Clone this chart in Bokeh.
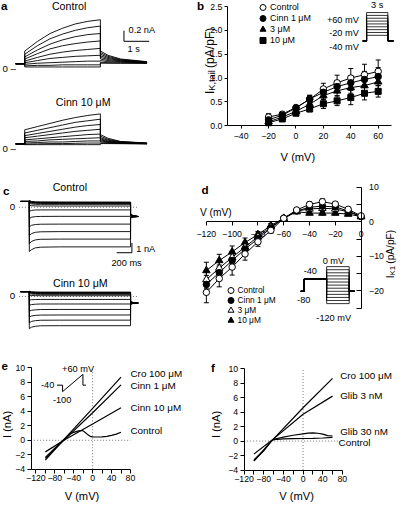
import math
from bokeh.plotting import figure
from bokeh.models import (Range1d, LinearAxis, FixedTicker, ColumnDataSource, Whisker,
                          TeeHead, Legend, LegendItem, NumeralTickFormatter)
from bokeh.layouts import row, column
from bokeh.embed import file_html
from bokeh.resources import INLINE
from bokeh.core.properties import value

FONT = "Liberation Sans"
K = 0.97

# ======================= DATA =======================
# (a) IK traces (nA); time in s; steps -20..+60 mV, tails at -40 mV
a_pre_t = [-0.36, 0.0]
a_step_t = [0.0, 0.5, 1.0, 1.5, 2.0, 2.5, 3.0]
a_tail_t = [3.0, 3.3, 3.8, 4.85]
a_ctrl_hold = 0.08
a_ctrl_step = [
    [0.32, 0.50, 0.65, 0.75, 0.83, 0.88, 0.91],
    [0.26, 0.42, 0.55, 0.64, 0.71, 0.76, 0.79],
    [0.21, 0.34, 0.45, 0.53, 0.59, 0.63, 0.65],
    [0.17, 0.27, 0.36, 0.42, 0.46, 0.49, 0.51],
    [0.13, 0.20, 0.26, 0.30, 0.33, 0.35, 0.37],
    [0.10, 0.14, 0.18, 0.20, 0.22, 0.23, 0.24],
    [0.07, 0.09, 0.10, 0.11, 0.12, 0.13, 0.13],
    [0.04, 0.05, 0.05, 0.06, 0.06, 0.06, 0.06],
    [0.02, 0.02, 0.02, 0.02, 0.02, 0.02, 0.02]]
a_ctrl_tail = [
    [0.32, 0.24, 0.17, 0.12],
    [0.29, 0.22, 0.16, 0.115],
    [0.26, 0.20, 0.15, 0.11],
    [0.23, 0.18, 0.14, 0.105],
    [0.20, 0.16, 0.13, 0.10],
    [0.17, 0.14, 0.12, 0.10],
    [0.14, 0.12, 0.11, 0.095],
    [0.11, 0.10, 0.095, 0.09],
    [0.09, 0.09, 0.09, 0.09]]
a_cinn_hold = 0.084
a_cinn_step = [
    [0.35, 0.41, 0.47, 0.53, 0.58, 0.62, 0.65],
    [0.29, 0.34, 0.39, 0.44, 0.49, 0.52, 0.55],
    [0.24, 0.28, 0.32, 0.36, 0.40, 0.43, 0.45],
    [0.20, 0.23, 0.26, 0.29, 0.32, 0.34, 0.36],
    [0.16, 0.18, 0.20, 0.22, 0.24, 0.26, 0.27],
    [0.13, 0.14, 0.16, 0.17, 0.18, 0.19, 0.20],
    [0.10, 0.11, 0.12, 0.12, 0.13, 0.14, 0.14],
    [0.08, 0.085, 0.09, 0.09, 0.095, 0.10, 0.10],
    [0.07, 0.07, 0.07, 0.07, 0.07, 0.07, 0.07]]
a_cinn_tail = [
    [0.26, 0.19, 0.13, 0.10],
    [0.23, 0.17, 0.125, 0.098],
    [0.20, 0.155, 0.12, 0.096],
    [0.18, 0.14, 0.115, 0.094],
    [0.16, 0.13, 0.11, 0.092],
    [0.14, 0.12, 0.10, 0.09],
    [0.12, 0.11, 0.097, 0.088],
    [0.10, 0.097, 0.092, 0.086],
    [0.09, 0.09, 0.088, 0.085]]
a_sb_t, a_sb_i = 1.0, 0.2          # scale bar: 1 s, 0.2 nA

# (b) IK,tail density (pA/pF) vs V (mV)
b_v = [-20, -10, 0, 10, 20, 30, 40, 50, 60]
b_ctrl = [0.18, 0.24, 0.38, 0.55, 0.77, 0.90, 1.00, 1.07, 1.14]
b_ctrl_err = [0.07, 0.04, 0.04, 0.08, 0.12, 0.16, 0.20, 0.22, 0.24]
b_c1 = [0.12, 0.22, 0.37, 0.56, 0.70, 0.82, 0.90, 0.97, 1.03]
b_c1_err = [0.05, 0.04, 0.05, 0.08, 0.10, 0.13, 0.15, 0.17, 0.19]
b_c3 = [0.08, 0.18, 0.30, 0.45, 0.63, 0.73, 0.80, 0.84, 0.92]
b_c3_err = [0.04, 0.03, 0.04, 0.06, 0.08, 0.10, 0.12, 0.13, 0.15]
b_c10 = [0.06, 0.14, 0.26, 0.35, 0.46, 0.52, 0.59, 0.68, 0.72]
b_c10_err = [0.05, 0.04, 0.04, 0.06, 0.10, 0.10, 0.15, 0.14, 0.12]
b_labels = ["Control", "Cinn 1 μM", "3 μM", "10 μM"]
b_x_ticks = [-40, -20, 0, 20, 40, 60]
b_y_ticks = [0.0, 0.5, 1.0, 1.5, 2.0, 2.5]
b_prot_t = [-0.55, 0.0, 3.0, 3.8]          # s
b_prot_hold = -40
b_prot_steps = [60, 50, 40, 30, 20, 10, 0, -10, -20]

# (c) IK1 traces (nA); time in ms; steps 0..-120 mV
c_pre_t = [-115, 0]
c_step_t = [0, 30, 80, 150, 400, 1330]
c_tail_t = [1330, 1365, 1430]
c_ctrl_hold = 0.6
c_ctrl_step = [
    [0.70, 0.60, 0.56, 0.55, 0.54, 0.53],
    [0.65, 0.56, 0.52, 0.51, 0.50, 0.50],
    [0.60, 0.52, 0.49, 0.48, 0.47, 0.47],
    [0.55, 0.48, 0.45, 0.44, 0.43, 0.43],
    [0.50, 0.44, 0.41, 0.40, 0.40, 0.40],
    [0.40, 0.34, 0.31, 0.30, 0.30, 0.30],
    [0.20, 0.16, 0.14, 0.13, 0.13, 0.13],
    [-0.40, -0.32, -0.28, -0.27, -0.27, -0.27],
    [-1.15, -1.02, -0.96, -0.94, -0.93, -0.93],
    [-2.00, -1.85, -1.77, -1.74, -1.73, -1.73],
    [-2.90, -2.70, -2.57, -2.52, -2.50, -2.50],
    [-3.75, -3.50, -3.35, -3.29, -3.27, -3.27],
    [-4.55, -4.35, -4.17, -4.10, -4.07, -4.07]]
c_ctrl_tail = [
    [-0.70, -0.86, -0.95], [-0.72, -0.87, -0.95], [-0.74, -0.87, -0.95],
    [-0.76, -0.88, -0.95], [-0.78, -0.88, -0.95], [-0.80, -0.89, -0.95],
    [-0.83, -0.90, -0.95], [-0.88, -0.92, -0.95], [-0.93, -0.94, -0.95],
    [-0.98, -0.96, -0.95], [-1.02, -0.98, -0.95], [-1.06, -1.00, -0.95],
    [-1.10, -1.02, -0.95]]
c_cinn_hold = 0.5
c_cinn_step = [
    [0.55, 0.48, 0.46, 0.45, 0.45, 0.45],
    [0.52, 0.45, 0.43, 0.42, 0.42, 0.42],
    [0.48, 0.42, 0.39, 0.38, 0.38, 0.38],
    [0.44, 0.38, 0.36, 0.35, 0.35, 0.35],
    [0.38, 0.33, 0.31, 0.30, 0.30, 0.30],
    [0.30, 0.25, 0.23, 0.22, 0.22, 0.22],
    [0.14, 0.10, 0.09, 0.08, 0.08, 0.08],
    [-0.38, -0.33, -0.31, -0.30, -0.30, -0.30],
    [-0.90, -0.83, -0.79, -0.77, -0.77, -0.77],
    [-1.50, -1.42, -1.37, -1.34, -1.33, -1.33],
    [-2.10, -2.00, -1.94, -1.91, -1.90, -1.90],
    [-2.70, -2.56, -2.48, -2.44, -2.43, -2.43],
    [-3.30, -3.15, -3.06, -3.01, -3.00, -3.00]]
c_cinn_tail = [
    [-0.52, -0.62, -0.67], [-0.54, -0.62, -0.67], [-0.56, -0.63, -0.67],
    [-0.58, -0.63, -0.67], [-0.60, -0.64, -0.67], [-0.62, -0.64, -0.67],
    [-0.64, -0.65, -0.67], [-0.67, -0.66, -0.67], [-0.70, -0.67, -0.67],
    [-0.73, -0.68, -0.67], [-0.76, -0.69, -0.67], [-0.79, -0.70, -0.67],
    [-0.82, -0.71, -0.67]]
c_zero_t = [-136, 1430]
c_sb_t, c_sb_i = 200.0, 1.0          # scale bar: 200 ms, 1 nA

# (d) IK1 density (pA/pF) vs V (mV)
d_v = [-120, -110, -100, -90, -80, -70, -60, -50, -40, -30, -20, -10, 0]
d_ctrl = [-20.4, -16.4, -13.1, -9.3, -5.8, -2.5, 1.0, 3.4, 5.0, 5.8, 5.1, 3.6, 1.7]
d_ctrl_err = [3.0, 2.4, 2.3, 1.8, 1.3, 0.8, 0.5, 0.5, 0.7, 0.8, 0.7, 0.5, 0.4]
d_c1 = [-18.1, -14.7, -11.2, -7.9, -4.9, -1.8, 1.0, 3.1, 4.2, 4.5, 4.3, 3.1, 1.5]
d_c1_err = [2.6, 2.2, 1.9, 1.5, 1.1, 0.7, 0.4, 0.5, 0.6, 0.6, 0.6, 0.5, 0.4]
d_c3 = [-16.7, -13.4, -10.3, -7.3, -4.3, -1.5, 1.0, 3.1, 3.7, 3.9, 3.7, 2.9, 1.5]
d_c3_err = [2.5, 2.0, 1.8, 1.4, 1.0, 0.6, 0.4, 0.5, 0.5, 0.6, 0.5, 0.4, 0.4]
d_c10 = [-14.1, -11.2, -8.7, -6.0, -3.7, -1.1, 1.0, 2.9, 2.5, 2.5, 2.5, 2.2, 1.5]
d_c10_err = [2.4, 1.8, 1.7, 1.3, 0.9, 0.6, 0.4, 0.4, 0.4, 0.5, 0.5, 0.4, 0.4]
d_labels = ["Control", "Cinn 1 μM", "3 μM", "10 μM"]
d_x_ticks = [-120, -100, -80, -60, -40, -20, 0]
d_y_ticks = [-20, -10, 0, 10]
d_y_minor = [-25, -15, -5, 5]
d_prot_t = [-1150, -1000, 0, 1000, 1250]     # ms
d_prot_hold = -80
d_prot_pre = -40
d_prot_steps = [0, -10, -20, -30, -40, -50, -60, -70, -80, -90, -100, -110, -120]

# (e) ramp I-V (nA vs mV)
e_v = [-100, -60, 0, 60]
e_cro = [-2.75, 0.15, 4.4, 8.7]
e_cinn1 = [-2.5, 0.05, 3.8, 7.65]
e_cinn10 = [-1.6, 0.05, 2.25, 4.5]
e_ctrl_v = [-100, -80, -60, -50, -40, -30, -25, -20, -15, -10, -5, 0, 10, 20, 30, 40, 50, 60]
e_ctrl = [-2.35, -1.1, 0.15, 0.75, 1.1, 1.3, 1.35, 1.3, 1.05, 0.75, 0.55, 0.48, 0.45, 0.47,
          0.55, 0.68, 0.85, 1.1]
e_labels = ["Cro 100 μM", "Cinn 1 μM", "Cinn 10 μM", "Control"]
e_prot_t = [-55, 0, 0, 200, 200, 230]        # ms
e_prot_v = [-40, -40, -100, 60, -40, -40]    # mV
e_zero_v = [-130, 80]
e_zero_i = [-4, 10]

# (f) ramp I-V (nA vs mV)
f_v = [-100, -60, 0, 60]
f_cro = [-2.75, 0.3, 4.6, 8.65]
f_glib3 = [-1.8, 0.3, 3.7, 6.2]
f_g30_v = [-100, -80, -65, -60, -40, -20, 0, 10, 20, 30, 40, 50, 60]
f_g30 = [-2.6, -1.25, 0.0, 0.25, 0.55, 0.8, 1.0, 1.1, 1.12, 1.08, 0.95, 0.75, 0.7]
f_ctrl_v = [-100, -80, -65, -60, -40, -20, 0, 20, 40, 60]
f_ctrl = [-2.7, -1.35, 0.0, 0.2, 0.3, 0.33, 0.35, 0.37, 0.42, 0.5]
f_labels = ["Cro 100 μM", "Glib 3 nM", "Glib 30 nM", "Control"]
f_zero_v = [-120, 72]
f_zero_i = [-4, 10]

ef_y_ticks = [-4, -2, 0, 2, 4, 6, 8, 10]
ef_x_ticks = [-120, -80, -40, 0, 40, 80]
ef_x_minor = [-100, -60, -20, 20, 60]

# ======================= LAYOUT HELPERS =======================
COLS = [(1.0, 200.0), (200.0, 412.0)]
ROWS = [(1.0, 170.0), (170.0, 355.0), (355.0, 519.0)]
WID = [193, 205]
HEI = [163, 180, 160]


class Map:
    """maps reference-layout pixels to data values of one panel"""
    def __init__(self, px, vx, sx, py, vy, sy):
        self.px, self.vx, self.sx, self.py, self.vy, self.sy = px, vx, sx, py, vy, sy

    def x(self, p):
        return self.vx + (p - self.px) / self.sx

    def y(self, p):
        return self.vy - (p - self.py) / self.sy


def xr(m, ci):
    x0, x1 = COLS[ci]
    return Range1d(m.x(x0), m.x(x1))


def yr(m, ri):
    y0, y1 = ROWS[ri]
    return Range1d(m.y(y1), m.y(y0))


def make_fig(ci, ri, m):
    p = figure(width=WID[ci], height=HEI[ri], x_range=xr(m, ci), y_range=yr(m, ri),
               x_axis_type=None, y_axis_type=None, toolbar_location=None, tools="",
               output_backend="svg", min_border=0, outline_line_color=None)
    p.background_fill_color = "white"
    p.border_fill_color = "white"
    return p


def T(p, m, xp, yp, s, size, align="left", base="middle", bold=False, angle=0.0):
    p.text(x=[m.x(xp)], y=[m.y(yp)], text=[s], text_font=value(FONT),
           text_font_size=value(f"{size * K:.2f}px"), text_align=align,
           text_baseline=base, angle=angle, text_color="black",
           text_font_style="bold" if bold else "normal")


def add_axis(p, side, loc, bounds, ticks, minor=(), t_in=0, t_out=3, standoff=2,
             size=9.0, fmt=None):
    ax = LinearAxis(fixed_location=loc, bounds=bounds,
                    ticker=FixedTicker(ticks=list(ticks), minor_ticks=list(minor)))
    ax.axis_line_color = "black"
    ax.axis_line_width = 1
    ax.major_tick_line_color = "black"
    ax.minor_tick_line_color = "black"
    ax.major_tick_in = t_in
    ax.major_tick_out = t_out
    ax.minor_tick_in = t_in
    ax.minor_tick_out = t_out
    ax.major_label_standoff = standoff
    ax.major_label_text_font = FONT
    ax.major_label_text_font_size = f"{size * K:.2f}px"
    ax.major_label_text_color = "black"
    if fmt is not None:
        ax.formatter = fmt
    p.add_layout(ax, side)
    return ax


def traces(pre_t, step_t, tail_t, hold, steps, tails):
    xs, ys = [], []
    for st, tl in zip(steps, tails):
        xs.append(list(pre_t) + list(step_t) + list(tail_t))
        ys.append([hold] * len(pre_t) + list(st) + list(tl))
    return xs, ys


def series(p, x, y, err, marker, fill, size):
    p.line(x, y, line_color="black", line_width=1)
    src = ColumnDataSource(dict(x=x, up=[a + b for a, b in zip(y, err)],
                                lo=[a - b for a, b in zip(y, err)]))
    p.add_layout(Whisker(source=src, base="x", upper="up", lower="lo",
                         line_color="black", line_width=1,
                         upper_head=TeeHead(size=5, line_color="black", line_width=1),
                         lower_head=TeeHead(size=5, line_color="black", line_width=1)))
    return p.scatter(x, y, marker=marker, size=size, fill_color=fill,
                     line_color="black", line_width=1)


def add_legend(p, ci, ri, labels, rends, cx_ref, rows_ref, font, gw=15, gh=16):
    """one single-item Legend per row, so rows can sit closer than the glyph box"""
    W, H = WID[ci], HEI[ri]
    (x0, x1), (y0, y1) = COLS[ci], ROWS[ri]
    kx, ky = W / (x1 - x0), H / (y1 - y0)
    for lab, r, yc in zip(labels, rends, rows_ref):
        vx = (cx_ref - x0) * kx - gw / 2.0
        vy = H - ((yc - y0) * ky + gh / 2.0)
        lg = Legend(items=[LegendItem(label=lab, renderers=[r])],
                    location=(vx, vy), glyph_width=gw, glyph_height=gh, label_height=gh,
                    label_standoff=0, spacing=0, padding=0, margin=0,
                    border_line_color=None, background_fill_alpha=0.0,
                    label_text_font=FONT, label_text_font_size=f"{font * K:.2f}px",
                    label_text_color="black")
        p.add_layout(lg)


DOT = dict(line_color="#777777", line_width=1, line_dash="1 2")
TR = dict(line_color="black", line_width=0.9)

# ======================= PANEL a =======================
ma = Map(26.0, 0.0, 26.0, 71.0, 0.0, 55.0)
ma_c = Map(26.0, 0.0, 26.0, 154.3, 0.0, 55.0)
pa = make_fig(0, 0, ma)
pa.extra_y_ranges = {"cinn": yr(ma_c, 0)}
xs, ys = traces(a_pre_t, a_step_t, a_tail_t, a_ctrl_hold, a_ctrl_step, a_ctrl_tail)
pa.multi_line(xs=xs, ys=ys, **TR)
xs, ys = traces(a_pre_t, a_step_t, a_tail_t, a_cinn_hold, a_cinn_step, a_cinn_tail)
pa.multi_line(xs=xs, ys=ys, y_range_name="cinn", **TR)
sx0, sy0 = ma.x(128.3), ma.y(43.3)
pa.multi_line(xs=[[sx0, sx0], [sx0, sx0 + a_sb_t]], ys=[[sy0 + a_sb_i, sy0], [sy0, sy0]],
              line_color="black", line_width=1)
T(pa, ma, 1.5, 6.5, "a", 12, bold=True)
T(pa, ma, 71.7, 6.5, "Control", 11, align="center")
T(pa, ma, 3, 71, "0 –", 10)
T(pa, ma, 133, 31.7, "0.2 nA", 9.5)
T(pa, ma, 138.3, 51.7, "1 s", 9.5, align="center")
T(pa, ma, 86.3, 106.7, "Cinn 10 μM", 11, align="center")
T(pa, ma, 3, 154.3, "0 –", 10)

# ======================= PANEL b =======================
mb = Map(249.3, -40.0, 1.417, 130.7, 0.0, 49.3)
mb_p = Map(379.0, 0.0, 7.333, 43.0, -40.0, 0.295)
pb = make_fig(1, 0, mb)
pb.extra_x_ranges = {"bt": xr(mb_p, 1)}
pb.extra_y_ranges = {"bv": yr(mb_p, 0)}
add_axis(pb, "left", -50, (0, 2.5), b_y_ticks, t_out=3, standoff=2,
         fmt=NumeralTickFormatter(format="0.0"))
add_axis(pb, "below", 0, (-50, 70), b_x_ticks, t_out=3, standoff=4)
rb = [series(pb, b_v, b_ctrl, b_ctrl_err, "circle", "white", 6.5),
      series(pb, b_v, b_c1, b_c1_err, "circle", "black", 6.5),
      series(pb, b_v, b_c3, b_c3_err, "triangle", "black", 7.5),
      series(pb, b_v, b_c10, b_c10_err, "square", "black", 6)]
add_legend(pb, 1, 0, b_labels, rb, 272.0, [8.3, 19.6, 30.9, 42.2], 9.2)
t0, t1, t2, t3 = b_prot_t
pb.multi_line(xs=[[t0, t1, t1, t2, t2, t3] for _ in b_prot_steps],
              ys=[[b_prot_hold, b_prot_hold, v, v, b_prot_hold, b_prot_hold] for v in b_prot_steps],
              x_range_name="bt", y_range_name="bv", line_color="black", line_width=0.8)
T(pb, mb, 203.5, 6.5, "b", 12, bold=True)
T(pb, mb, 390, 5.7, "3 s", 9.5, align="center")
T(pb, mb, 371, 21, "+60 mV", 9.5, align="right")
T(pb, mb, 371, 35, "-20 mV", 9.5, align="right")
T(pb, mb, 371, 49.3, "-40 mV", 9.5, align="right")
T(pb, mb, 308, 163, "V (mV)", 11.5, align="center")
T(pb, mb, 216.7, 98, "I", 12.5, angle=math.pi / 2)
T(pb, mb, 219.4, 94.5, "K,tail", 9.5, angle=math.pi / 2)
T(pb, mb, 216.7, 71.0, "(pA/pF)", 12.5, angle=math.pi / 2)

# ======================= PANEL c =======================
mc = Map(30.7, 0.0, 0.0785, 215.0, 0.0, 10.0)
mc_c = Map(30.7, 0.0, 0.0785, 306.7, 0.0, 10.0)
pc = make_fig(0, 1, mc)
pc.extra_y_ranges = {"cinn": yr(mc_c, 1)}
pc.line(c_zero_t, [0, 0], **DOT)
pc.line(c_zero_t, [0, 0], y_range_name="cinn", **DOT)
xs, ys = traces(c_pre_t, c_step_t, c_tail_t, c_ctrl_hold, c_ctrl_step, c_ctrl_tail)
pc.multi_line(xs=xs, ys=ys, **TR)
xs, ys = traces(c_pre_t, c_step_t, c_tail_t, c_cinn_hold, c_cinn_step, c_cinn_tail)
pc.multi_line(xs=xs, ys=ys, y_range_name="cinn", **TR)
sx0, sy0 = mc.x(136.5), mc.y(261.7)
pc.multi_line(xs=[[sx0, sx0], [sx0 - c_sb_t, sx0]], ys=[[sy0 + c_sb_i, sy0], [sy0, sy0]],
              line_color="black", line_width=1)
T(pc, mc, 3.5, 198, "c", 12, bold=True)
T(pc, mc, 72.5, 194.3, "Control", 11, align="center")
T(pc, mc, 13.3, 214.5, "0", 10, align="center")
T(pc, mc, 141, 257.5, "1 nA", 9.5)
T(pc, mc, 131, 272, "200 ms", 9.5, align="center")
T(pc, mc, 83.3, 292.7, "Cinn 10 μM", 11, align="center")
T(pc, mc, 13.3, 306.2, "0", 10, align="center")

# ======================= PANEL d =======================
md = Map(213.3, -120.0, 1.3333, 194.3, 10.0, 3.557)
md_p = Map(337.7, 0.0, 0.0233, 276.0, 0.0, 0.3167)
pd = make_fig(1, 1, md)
pd.extra_x_ranges = {"dt": xr(md_p, 1)}
pd.extra_y_ranges = {"dv": yr(md_p, 1)}
add_axis(pd, "right", 0, (-25, 10), d_y_ticks, minor=d_y_minor, t_in=5, t_out=0, standoff=8)
add_axis(pd, "below", 0, (-120, 0), d_x_ticks, t_out=4, standoff=5)
rd = [series(pd, d_v, d_c10, d_c10_err, "triangle", "black", 7.5),
      series(pd, d_v, d_c3, d_c3_err, "triangle", "white", 7.5),
      series(pd, d_v, d_c1, d_c1_err, "circle", "black", 6.5),
      series(pd, d_v, d_ctrl, d_ctrl_err, "circle", "white", 6.5)]
add_legend(pd, 1, 1, d_labels, rd[::-1], 238.3, [300.5, 310.8, 321.1, 331.4], 8.6)
q0, q1, q2, q3, q4 = d_prot_t
pd.multi_line(xs=[[q0, q1, q1, q2, q2, q3, q3, q4] for _ in d_prot_steps],
              ys=[[d_prot_hold, d_prot_hold, d_prot_pre, d_prot_pre, v, v, d_prot_hold, d_prot_hold]
                  for v in d_prot_steps],
              x_range_name="dt", y_range_name="dv", line_color="black", line_width=0.8)
T(pd, md, 208.3, 197, "d", 12, bold=True)
T(pd, md, 223, 220, "V (mV)", 10.5, align="center")
T(pd, md, 344.7, 270, "0 mV", 9.5, align="center")
T(pd, md, 320.8, 280.7, "-40", 9.5, align="center")
T(pd, md, 314, 309.8, "-80", 9.5, align="center")
T(pd, md, 345, 329, "-120 mV", 9.5, align="center")
T(pd, md, 403.3, 288, "I", 10.5, angle=math.pi / 2)
T(pd, md, 405.6, 285, "K1", 8, angle=math.pi / 2)
T(pd, md, 403.3, 273, "(pA/pF)", 10.5, angle=math.pi / 2)

# ======================= PANEL e =======================
me = Map(96.0, 0.0, 0.4875, 454.2, 0.0, 7.43)
me_p = Map(65.0, 0.0, 0.105, 397.7, -40.0, 0.1106)
pe = make_fig(0, 2, me)
pe.extra_x_ranges = {"et": xr(me_p, 0)}
pe.extra_y_ranges = {"ev": yr(me_p, 2)}
add_axis(pe, "left", -130, (-4, 10), ef_y_ticks, t_out=4, standoff=2)
add_axis(pe, "below", -4, (-130, 80), ef_x_ticks, minor=ef_x_minor, t_out=4, standoff=2)
pe.line(e_zero_v, [0, 0], **DOT)
pe.line([0, 0], e_zero_i, **DOT)
for yy in (e_cro, e_cinn1, e_cinn10):
    pe.line(e_v, yy, line_color="black", line_width=1.2)
pe.line(e_ctrl_v, e_ctrl, line_color="black", line_width=1.2)
pe.line(e_prot_t, e_prot_v, x_range_name="et", y_range_name="ev", line_color="black", line_width=1)
T(pe, me, 2, 378, "e", 12, bold=True)
for lab, yp in zip(e_labels, [386, 398.3, 421, 444.3]):
    T(pe, me, 135, yp, lab, 10.2)
T(pe, me, 81, 381, "+60 mV", 9.5, align="center")
T(pe, me, 56.5, 398, "-40", 9.5, align="right")
T(pe, me, 64.5, 412.7, "-100", 9.5, align="center")
T(pe, me, 85, 511.7, "V (mV)", 11.5, align="center")
T(pe, me, 7.5, 438, "I (nA)", 11.5, align="center", angle=math.pi / 2)

# ======================= PANEL f =======================
mf = Map(313.3, 0.0, 0.508, 455.0, 0.0, 7.43)
pf = make_fig(1, 2, mf)
add_axis(pf, "left", -120, (-4, 10), ef_y_ticks, t_out=4, standoff=2)
add_axis(pf, "below", -4, (-120, 80), ef_x_ticks, minor=ef_x_minor, t_out=4, standoff=2)
pf.line(f_zero_v, [0, 0], **DOT)
pf.line([0, 0], f_zero_i, **DOT)
pf.line(f_v, f_cro, line_color="black", line_width=1.2)
pf.line(f_v, f_glib3, line_color="black", line_width=1.2)
pf.line(f_g30_v, f_g30, line_color="black", line_width=1.2)
pf.line(f_ctrl_v, f_ctrl, line_color="black", line_width=1.2)
T(pf, mf, 218, 380, "f", 12, bold=True)
for lab, xp, yp in zip(f_labels, [351.7, 351.7, 351.7, 350], [387.7, 408.3, 445, 456.7]):
    T(pf, mf, xp, yp, lab, 10.2)
T(pf, mf, 306.7, 511.7, "V (mV)", 11.5, align="center")
T(pf, mf, 223.3, 438, "I (nA)", 11.5, align="center", angle=math.pi / 2)

layout = column(row(pa, pb), row(pc, pd), row(pe, pf))
open("out.html", "w").write(file_html(layout, INLINE, title="Figure"))
